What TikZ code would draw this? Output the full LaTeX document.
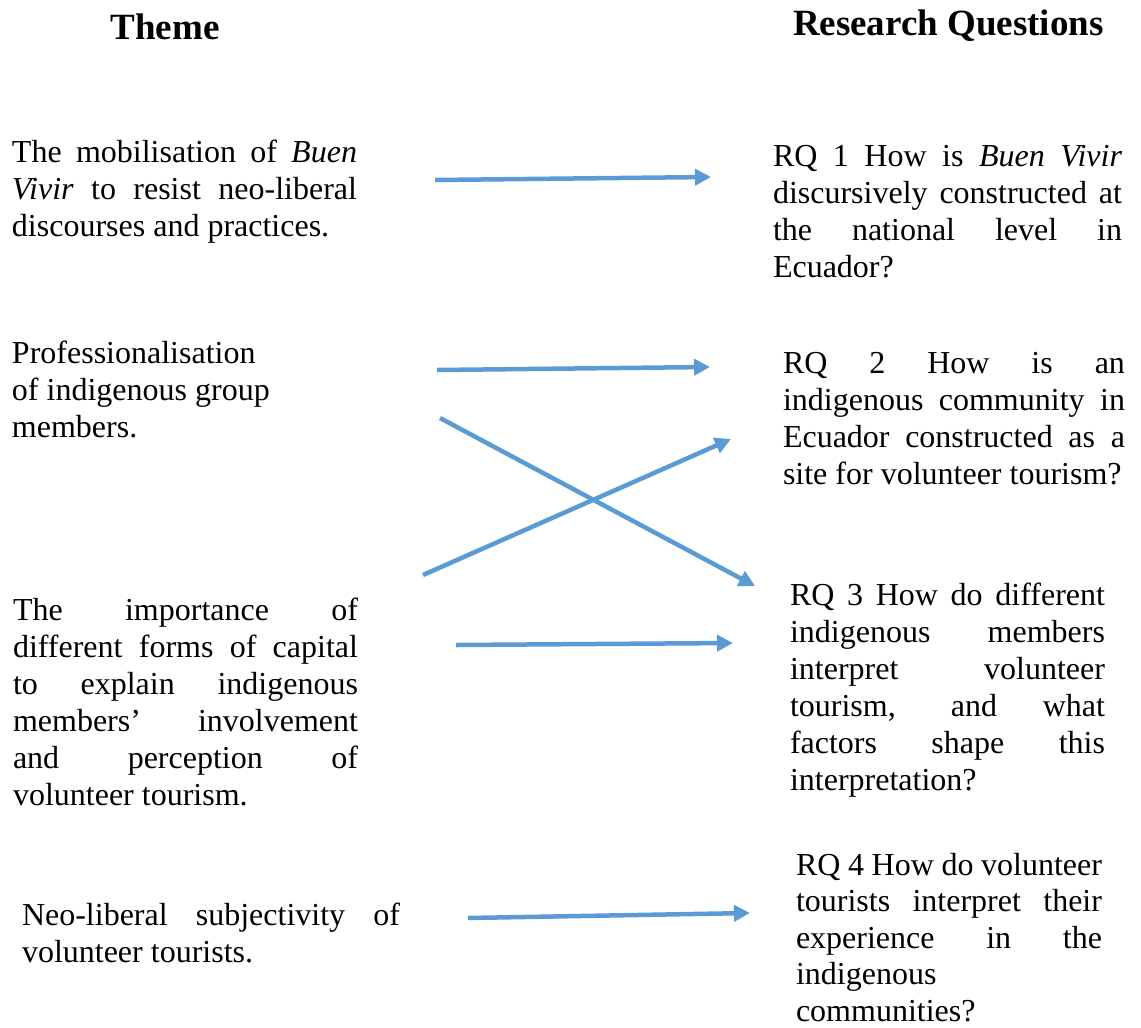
\documentclass[tikz,border=0pt]{standalone}
\usepackage{fontspec}
\setmainfont{Liberation Serif}
\usetikzlibrary{arrows.meta}
\definecolor{arrowblue}{HTML}{5B9BD5}
\newcommand{\jl}[1]{\makebox[\linewidth][s]{#1}\\}
\newcommand{\blk}[3][37]{\parbox[t]{#2pt}{\fontsize{32}{#1}\selectfont #3}}
\begin{document}
\begin{tikzpicture}[x=1pt,y=-1pt,
  txt/.style={anchor=base west, inner sep=0pt, outer sep=0pt},
  hdr/.style={anchor=base west, inner sep=0pt, outer sep=0pt, font=\bfseries\fontsize{37}{40}\selectfont},
  link/.style={draw=arrowblue, line width=4.5pt, -{Triangle[length=16pt,width=16pt]}}]
\useasboundingbox (0,0) rectangle (1141,1028);

% headers
\node[hdr, anchor=base] (hTheme) at (165,39) {Theme};
\node[hdr] (hRQ) at (793,35) {Research Questions};

% themes
\node[txt] (t1) at (12,162) {\blk{345}{\jl{The mobilisation of \textit{Buen}}\jl{\textit{Vivir} to resist neo-liberal}discourses and practices.}};
\node[txt] (t2) at (12,363) {\blk{300}{Professionalisation\\of indigenous group\\members.}};
\node[txt] (t3) at (13,620) {\blk{345}{\jl{The importance of}\jl{different forms of capital}\jl{to explain indigenous}\jl{members’ involvement}\jl{and perception of}volunteer tourism.}};
\node[txt] (t4) at (22,925) {\blk{378}{\jl{Neo-liberal subjectivity of}volunteer tourists.}};

% research questions
\node[txt] (q1) at (773,166) {\blk{349}{\jl{RQ 1 How is \textit{Buen Vivir}}\jl{discursively constructed at}\jl{the national level in}Ecuador?}};
\node[txt] (q2) at (783,373) {\blk{342}{\jl{RQ 2 How is an}\jl{indigenous community in}\jl{Ecuador constructed as a}site for volunteer tourism?}};
\node[txt] (q3) at (790,605) {\blk{315}{\jl{RQ 3 How do different}\jl{indigenous members}\jl{interpret volunteer}\jl{tourism, and what}\jl{factors shape this}interpretation?}};
\node[txt] (q4) at (796,875) {\blk[36.5]{306}{\jl{RQ 4 How do volunteer}\jl{tourists interpret their}\jl{experience in the}indigenous\\communities?}};

% arrow end points
\coordinate (a1s) at (435,180); \coordinate (a1e) at (711,177);
\coordinate (a2s) at (437,370); \coordinate (a2e) at (710,367);
\coordinate (a3s) at (440,418); \coordinate (a3e) at (755,586);
\coordinate (a4s) at (423,575); \coordinate (a4e) at (731,439);
\coordinate (a5s) at (456,645); \coordinate (a5e) at (733,643);
\coordinate (a6s) at (468,918); \coordinate (a6e) at (750,913);

\draw[link] (a1s) -- (a1e);
\draw[link] (a2s) -- (a2e);
\draw[link] (a3s) -- (a3e);
\draw[link] (a4s) -- (a4e);
\draw[link] (a5s) -- (a5e);
\draw[link] (a6s) -- (a6e);
\end{tikzpicture}
\end{document}
